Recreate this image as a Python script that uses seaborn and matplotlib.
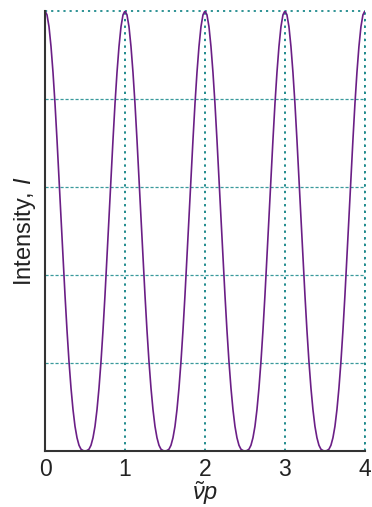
import numpy as np
import pandas as pd
import matplotlib
matplotlib.use("Agg")
import matplotlib.pyplot as plt
import seaborn as sns

step = 0.025
half_period = [1.000, 0.991, 0.964, 0.919, 0.860, 0.789, 0.707, 0.620, 0.530,
               0.440, 0.354, 0.274, 0.203, 0.143, 0.094, 0.056, 0.030, 0.013,
               0.004, 0.001, 0.000]
n_periods = 4
x_ticks = [0, 1, 2, 3, 4]
y_grid = [0.2, 0.4, 0.6, 0.8]

# one full period = half-period followed by its mirror, then repeated
period = half_period + half_period[-2::-1][:-1]
intensity = period * n_periods + [half_period[0]]
x = np.arange(len(intensity)) * step
df = pd.DataFrame({"x": x, "I": intensity})

sns.set_style("white")
plt.rcParams["font.family"] = ["Liberation Sans", "DejaVu Sans"]
plt.rcParams["mathtext.fontset"] = "custom"
plt.rcParams["mathtext.rm"] = "Liberation Sans"
plt.rcParams["mathtext.it"] = "Liberation Sans:italic"

grid_col = "#1f8a8c"
dot = (0, (1.2, 2.2))
fig = plt.figure(figsize=(3.72, 5.07), dpi=100)
ax = fig.add_axes([0.121, 0.1105, 0.86, 0.868])

ax.set_xticks(x_ticks)
ax.set_yticks(y_grid)
ax.set_yticklabels([])
ax.xaxis.grid(True, linestyle=dot, color=grid_col, linewidth=1.4)
ax.yaxis.grid(True, linestyle=(0, (2.5, 1.5)), color="#3a9a9c", linewidth=0.9)
ax.axhline(1.0, linestyle=dot, color=grid_col, linewidth=1.3, clip_on=False)
ax.axvline(x_ticks[-1], linestyle=dot, color=grid_col, linewidth=1.4, clip_on=False)
ax.set_axisbelow(True)

sns.lineplot(data=df, x="x", y="I", ax=ax, color="#6b1f86", linewidth=1.2)

ax.set_xlim(0, 4)
ax.set_ylim(0, 1)
for s in ["top", "right"]:
    ax.spines[s].set_visible(False)
for s in ["left", "bottom"]:
    ax.spines[s].set_color("#333333")
    ax.spines[s].set_linewidth(1.5)
ax.tick_params(axis="both", length=0, labelsize=16.5, pad=5, colors="#222222")
ax.set_xlabel(r"$\tilde{\nu}p$", fontsize=17, labelpad=-1, color="#222222")
ax.set_ylabel(r"Intensity, $I$", fontsize=17, labelpad=0, color="#222222")

fig.savefig("out.png", dpi=100)
